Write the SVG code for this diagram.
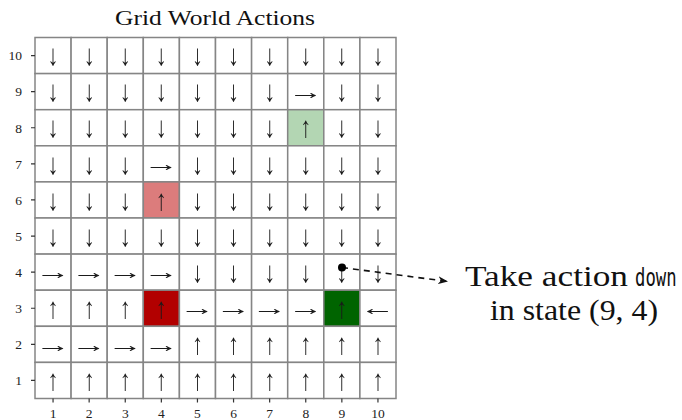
<svg xmlns="http://www.w3.org/2000/svg" width="682" height="420" viewBox="0 0 682 420">
<style>
.bg{fill:#ffffff}
.c rect{fill:#ffffff;stroke:#858585;stroke-width:1.5}
.c text{font-family:"Liberation Serif",serif;font-size:22px;text-anchor:middle;dominant-baseline:central;fill:#1a1a1a}
.c text.v{transform:scale(1,1.35)}
.c text.h{transform:scale(1.6,0.95)}
.tk{stroke:#333;stroke-width:1.2}
.yl{font-family:"Liberation Serif",serif;font-size:13.5px;text-anchor:end;fill:#222}
.xl{font-family:"Liberation Serif",serif;font-size:13.5px;text-anchor:middle;fill:#222}
.ttl{font-family:"Liberation Serif",serif;font-size:21.5px;text-anchor:middle;fill:#111}
.ann{font-family:"Liberation Serif","Times New Roman",serif;font-size:30px;fill:#111}
.mono{font-family:"DejaVu Sans Mono",monospace;font-size:24px;fill:#111}
.lr rect{fill:#dc7c7c}
.lg rect{fill:#b3d6b3}
.dr rect{fill:#b20000}
.dg rect{fill:#006400}
</style>
<defs>
<marker id="stealth" viewBox="0 0 10 8" refX="10" refY="4" markerWidth="10" markerHeight="8" markerUnits="userSpaceOnUse" orient="auto">
<path d="M0,0 L10,4 L0,8 L3,4 z" fill="#111"/>
</marker>
<filter id="gray" x="0" y="0" width="1" height="1"><feOffset dx="0" dy="0"/></filter>
</defs>
<rect class="bg" x="0" y="0" width="682" height="420"/>
<text id="title" class="ttl" x="215" y="25" textLength="200" lengthAdjust="spacingAndGlyphs">Grid World Actions</text>

<g id="grid" filter="url(#gray)">
<rect x="30" y="30" width="380" height="380" fill="#fff"/>
<!-- row 10 -->
<g id="cell-1-10" class="c"><rect x="35" y="37.5" width="36.1" height="36.1"/><g transform="translate(53.05 55.55)"><text class="v">↓</text></g></g>
<g id="cell-2-10" class="c"><rect x="71.1" y="37.5" width="36.1" height="36.1"/><g transform="translate(89.15 55.55)"><text class="v">↓</text></g></g>
<g id="cell-3-10" class="c"><rect x="107.2" y="37.5" width="36.1" height="36.1"/><g transform="translate(125.25 55.55)"><text class="v">↓</text></g></g>
<g id="cell-4-10" class="c"><rect x="143.3" y="37.5" width="36.1" height="36.1"/><g transform="translate(161.35 55.55)"><text class="v">↓</text></g></g>
<g id="cell-5-10" class="c"><rect x="179.4" y="37.5" width="36.1" height="36.1"/><g transform="translate(197.45 55.55)"><text class="v">↓</text></g></g>
<g id="cell-6-10" class="c"><rect x="215.5" y="37.5" width="36.1" height="36.1"/><g transform="translate(233.55 55.55)"><text class="v">↓</text></g></g>
<g id="cell-7-10" class="c"><rect x="251.6" y="37.5" width="36.1" height="36.1"/><g transform="translate(269.65 55.55)"><text class="v">↓</text></g></g>
<g id="cell-8-10" class="c"><rect x="287.7" y="37.5" width="36.1" height="36.1"/><g transform="translate(305.75 55.55)"><text class="v">↓</text></g></g>
<g id="cell-9-10" class="c"><rect x="323.8" y="37.5" width="36.1" height="36.1"/><g transform="translate(341.85 55.55)"><text class="v">↓</text></g></g>
<g id="cell-10-10" class="c"><rect x="359.9" y="37.5" width="36.1" height="36.1"/><g transform="translate(377.95 55.55)"><text class="v">↓</text></g></g>
<!-- row 9 -->
<g id="cell-1-9" class="c"><rect x="35" y="73.6" width="36.1" height="36.1"/><g transform="translate(53.05 91.65)"><text class="v">↓</text></g></g>
<g id="cell-2-9" class="c"><rect x="71.1" y="73.6" width="36.1" height="36.1"/><g transform="translate(89.15 91.65)"><text class="v">↓</text></g></g>
<g id="cell-3-9" class="c"><rect x="107.2" y="73.6" width="36.1" height="36.1"/><g transform="translate(125.25 91.65)"><text class="v">↓</text></g></g>
<g id="cell-4-9" class="c"><rect x="143.3" y="73.6" width="36.1" height="36.1"/><g transform="translate(161.35 91.65)"><text class="v">↓</text></g></g>
<g id="cell-5-9" class="c"><rect x="179.4" y="73.6" width="36.1" height="36.1"/><g transform="translate(197.45 91.65)"><text class="v">↓</text></g></g>
<g id="cell-6-9" class="c"><rect x="215.5" y="73.6" width="36.1" height="36.1"/><g transform="translate(233.55 91.65)"><text class="v">↓</text></g></g>
<g id="cell-7-9" class="c"><rect x="251.6" y="73.6" width="36.1" height="36.1"/><g transform="translate(269.65 91.65)"><text class="v">↓</text></g></g>
<g id="cell-8-9" class="c"><rect x="287.7" y="73.6" width="36.1" height="36.1"/><g transform="translate(305.75 91.65)"><text class="h">→</text></g></g>
<g id="cell-9-9" class="c"><rect x="323.8" y="73.6" width="36.1" height="36.1"/><g transform="translate(341.85 91.65)"><text class="v">↓</text></g></g>
<g id="cell-10-9" class="c"><rect x="359.9" y="73.6" width="36.1" height="36.1"/><g transform="translate(377.95 91.65)"><text class="v">↓</text></g></g>
<!-- row 8 -->
<g id="cell-1-8" class="c"><rect x="35" y="109.7" width="36.1" height="36.1"/><g transform="translate(53.05 127.75)"><text class="v">↓</text></g></g>
<g id="cell-2-8" class="c"><rect x="71.1" y="109.7" width="36.1" height="36.1"/><g transform="translate(89.15 127.75)"><text class="v">↓</text></g></g>
<g id="cell-3-8" class="c"><rect x="107.2" y="109.7" width="36.1" height="36.1"/><g transform="translate(125.25 127.75)"><text class="v">↓</text></g></g>
<g id="cell-4-8" class="c"><rect x="143.3" y="109.7" width="36.1" height="36.1"/><g transform="translate(161.35 127.75)"><text class="v">↓</text></g></g>
<g id="cell-5-8" class="c"><rect x="179.4" y="109.7" width="36.1" height="36.1"/><g transform="translate(197.45 127.75)"><text class="v">↓</text></g></g>
<g id="cell-6-8" class="c"><rect x="215.5" y="109.7" width="36.1" height="36.1"/><g transform="translate(233.55 127.75)"><text class="v">↓</text></g></g>
<g id="cell-7-8" class="c"><rect x="251.6" y="109.7" width="36.1" height="36.1"/><g transform="translate(269.65 127.75)"><text class="v">↓</text></g></g>
<g id="cell-8-8" class="c lg"><rect x="287.7" y="109.7" width="36.1" height="36.1"/><g transform="translate(305.75 127.75)"><text class="v">↑</text></g></g>
<g id="cell-9-8" class="c"><rect x="323.8" y="109.7" width="36.1" height="36.1"/><g transform="translate(341.85 127.75)"><text class="v">↓</text></g></g>
<g id="cell-10-8" class="c"><rect x="359.9" y="109.7" width="36.1" height="36.1"/><g transform="translate(377.95 127.75)"><text class="v">↓</text></g></g>
<!-- row 7 -->
<g id="cell-1-7" class="c"><rect x="35" y="145.8" width="36.1" height="36.1"/><g transform="translate(53.05 163.85)"><text class="v">↓</text></g></g>
<g id="cell-2-7" class="c"><rect x="71.1" y="145.8" width="36.1" height="36.1"/><g transform="translate(89.15 163.85)"><text class="v">↓</text></g></g>
<g id="cell-3-7" class="c"><rect x="107.2" y="145.8" width="36.1" height="36.1"/><g transform="translate(125.25 163.85)"><text class="v">↓</text></g></g>
<g id="cell-4-7" class="c"><rect x="143.3" y="145.8" width="36.1" height="36.1"/><g transform="translate(161.35 163.85)"><text class="h">→</text></g></g>
<g id="cell-5-7" class="c"><rect x="179.4" y="145.8" width="36.1" height="36.1"/><g transform="translate(197.45 163.85)"><text class="v">↓</text></g></g>
<g id="cell-6-7" class="c"><rect x="215.5" y="145.8" width="36.1" height="36.1"/><g transform="translate(233.55 163.85)"><text class="v">↓</text></g></g>
<g id="cell-7-7" class="c"><rect x="251.6" y="145.8" width="36.1" height="36.1"/><g transform="translate(269.65 163.85)"><text class="v">↓</text></g></g>
<g id="cell-8-7" class="c"><rect x="287.7" y="145.8" width="36.1" height="36.1"/><g transform="translate(305.75 163.85)"><text class="v">↓</text></g></g>
<g id="cell-9-7" class="c"><rect x="323.8" y="145.8" width="36.1" height="36.1"/><g transform="translate(341.85 163.85)"><text class="v">↓</text></g></g>
<g id="cell-10-7" class="c"><rect x="359.9" y="145.8" width="36.1" height="36.1"/><g transform="translate(377.95 163.85)"><text class="v">↓</text></g></g>
<!-- row 6 -->
<g id="cell-1-6" class="c"><rect x="35" y="181.9" width="36.1" height="36.1"/><g transform="translate(53.05 199.95)"><text class="v">↓</text></g></g>
<g id="cell-2-6" class="c"><rect x="71.1" y="181.9" width="36.1" height="36.1"/><g transform="translate(89.15 199.95)"><text class="v">↓</text></g></g>
<g id="cell-3-6" class="c"><rect x="107.2" y="181.9" width="36.1" height="36.1"/><g transform="translate(125.25 199.95)"><text class="v">↓</text></g></g>
<g id="cell-4-6" class="c lr"><rect x="143.3" y="181.9" width="36.1" height="36.1"/><g transform="translate(161.35 199.95)"><text class="v">↑</text></g></g>
<g id="cell-5-6" class="c"><rect x="179.4" y="181.9" width="36.1" height="36.1"/><g transform="translate(197.45 199.95)"><text class="v">↓</text></g></g>
<g id="cell-6-6" class="c"><rect x="215.5" y="181.9" width="36.1" height="36.1"/><g transform="translate(233.55 199.95)"><text class="v">↓</text></g></g>
<g id="cell-7-6" class="c"><rect x="251.6" y="181.9" width="36.1" height="36.1"/><g transform="translate(269.65 199.95)"><text class="v">↓</text></g></g>
<g id="cell-8-6" class="c"><rect x="287.7" y="181.9" width="36.1" height="36.1"/><g transform="translate(305.75 199.95)"><text class="v">↓</text></g></g>
<g id="cell-9-6" class="c"><rect x="323.8" y="181.9" width="36.1" height="36.1"/><g transform="translate(341.85 199.95)"><text class="v">↓</text></g></g>
<g id="cell-10-6" class="c"><rect x="359.9" y="181.9" width="36.1" height="36.1"/><g transform="translate(377.95 199.95)"><text class="v">↓</text></g></g>
<!-- row 5 -->
<g id="cell-1-5" class="c"><rect x="35" y="218" width="36.1" height="36.1"/><g transform="translate(53.05 236.05)"><text class="v">↓</text></g></g>
<g id="cell-2-5" class="c"><rect x="71.1" y="218" width="36.1" height="36.1"/><g transform="translate(89.15 236.05)"><text class="v">↓</text></g></g>
<g id="cell-3-5" class="c"><rect x="107.2" y="218" width="36.1" height="36.1"/><g transform="translate(125.25 236.05)"><text class="v">↓</text></g></g>
<g id="cell-4-5" class="c"><rect x="143.3" y="218" width="36.1" height="36.1"/><g transform="translate(161.35 236.05)"><text class="v">↓</text></g></g>
<g id="cell-5-5" class="c"><rect x="179.4" y="218" width="36.1" height="36.1"/><g transform="translate(197.45 236.05)"><text class="v">↓</text></g></g>
<g id="cell-6-5" class="c"><rect x="215.5" y="218" width="36.1" height="36.1"/><g transform="translate(233.55 236.05)"><text class="v">↓</text></g></g>
<g id="cell-7-5" class="c"><rect x="251.6" y="218" width="36.1" height="36.1"/><g transform="translate(269.65 236.05)"><text class="v">↓</text></g></g>
<g id="cell-8-5" class="c"><rect x="287.7" y="218" width="36.1" height="36.1"/><g transform="translate(305.75 236.05)"><text class="v">↓</text></g></g>
<g id="cell-9-5" class="c"><rect x="323.8" y="218" width="36.1" height="36.1"/><g transform="translate(341.85 236.05)"><text class="v">↓</text></g></g>
<g id="cell-10-5" class="c"><rect x="359.9" y="218" width="36.1" height="36.1"/><g transform="translate(377.95 236.05)"><text class="v">↓</text></g></g>
<!-- row 4 -->
<g id="cell-1-4" class="c"><rect x="35" y="254.1" width="36.1" height="36.1"/><g transform="translate(53.05 272.15)"><text class="h">→</text></g></g>
<g id="cell-2-4" class="c"><rect x="71.1" y="254.1" width="36.1" height="36.1"/><g transform="translate(89.15 272.15)"><text class="h">→</text></g></g>
<g id="cell-3-4" class="c"><rect x="107.2" y="254.1" width="36.1" height="36.1"/><g transform="translate(125.25 272.15)"><text class="h">→</text></g></g>
<g id="cell-4-4" class="c"><rect x="143.3" y="254.1" width="36.1" height="36.1"/><g transform="translate(161.35 272.15)"><text class="h">→</text></g></g>
<g id="cell-5-4" class="c"><rect x="179.4" y="254.1" width="36.1" height="36.1"/><g transform="translate(197.45 272.15)"><text class="v">↓</text></g></g>
<g id="cell-6-4" class="c"><rect x="215.5" y="254.1" width="36.1" height="36.1"/><g transform="translate(233.55 272.15)"><text class="v">↓</text></g></g>
<g id="cell-7-4" class="c"><rect x="251.6" y="254.1" width="36.1" height="36.1"/><g transform="translate(269.65 272.15)"><text class="v">↓</text></g></g>
<g id="cell-8-4" class="c"><rect x="287.7" y="254.1" width="36.1" height="36.1"/><g transform="translate(305.75 272.15)"><text class="v">↓</text></g></g>
<g id="cell-9-4" class="c"><rect x="323.8" y="254.1" width="36.1" height="36.1"/><g transform="translate(341.85 272.15)"><text class="v">↓</text></g></g>
<g id="cell-10-4" class="c"><rect x="359.9" y="254.1" width="36.1" height="36.1"/><g transform="translate(377.95 272.15)"><text class="v">↓</text></g></g>
<!-- row 3 -->
<g id="cell-1-3" class="c"><rect x="35" y="290.2" width="36.1" height="36.1"/><g transform="translate(53.05 308.25)"><text class="v">↑</text></g></g>
<g id="cell-2-3" class="c"><rect x="71.1" y="290.2" width="36.1" height="36.1"/><g transform="translate(89.15 308.25)"><text class="v">↑</text></g></g>
<g id="cell-3-3" class="c"><rect x="107.2" y="290.2" width="36.1" height="36.1"/><g transform="translate(125.25 308.25)"><text class="v">↑</text></g></g>
<g id="cell-4-3" class="c dr"><rect x="143.3" y="290.2" width="36.1" height="36.1"/><g transform="translate(161.35 308.25)"><text class="v">↑</text></g></g>
<g id="cell-5-3" class="c"><rect x="179.4" y="290.2" width="36.1" height="36.1"/><g transform="translate(197.45 308.25)"><text class="h">→</text></g></g>
<g id="cell-6-3" class="c"><rect x="215.5" y="290.2" width="36.1" height="36.1"/><g transform="translate(233.55 308.25)"><text class="h">→</text></g></g>
<g id="cell-7-3" class="c"><rect x="251.6" y="290.2" width="36.1" height="36.1"/><g transform="translate(269.65 308.25)"><text class="h">→</text></g></g>
<g id="cell-8-3" class="c"><rect x="287.7" y="290.2" width="36.1" height="36.1"/><g transform="translate(305.75 308.25)"><text class="h">→</text></g></g>
<g id="cell-9-3" class="c dg"><rect x="323.8" y="290.2" width="36.1" height="36.1"/><g transform="translate(341.85 308.25)"><text class="v">↑</text></g></g>
<g id="cell-10-3" class="c"><rect x="359.9" y="290.2" width="36.1" height="36.1"/><g transform="translate(377.95 308.25)"><text class="h">←</text></g></g>
<!-- row 2 -->
<g id="cell-1-2" class="c"><rect x="35" y="326.3" width="36.1" height="36.1"/><g transform="translate(53.05 344.35)"><text class="h">→</text></g></g>
<g id="cell-2-2" class="c"><rect x="71.1" y="326.3" width="36.1" height="36.1"/><g transform="translate(89.15 344.35)"><text class="h">→</text></g></g>
<g id="cell-3-2" class="c"><rect x="107.2" y="326.3" width="36.1" height="36.1"/><g transform="translate(125.25 344.35)"><text class="h">→</text></g></g>
<g id="cell-4-2" class="c"><rect x="143.3" y="326.3" width="36.1" height="36.1"/><g transform="translate(161.35 344.35)"><text class="h">→</text></g></g>
<g id="cell-5-2" class="c"><rect x="179.4" y="326.3" width="36.1" height="36.1"/><g transform="translate(197.45 344.35)"><text class="v">↑</text></g></g>
<g id="cell-6-2" class="c"><rect x="215.5" y="326.3" width="36.1" height="36.1"/><g transform="translate(233.55 344.35)"><text class="v">↑</text></g></g>
<g id="cell-7-2" class="c"><rect x="251.6" y="326.3" width="36.1" height="36.1"/><g transform="translate(269.65 344.35)"><text class="v">↑</text></g></g>
<g id="cell-8-2" class="c"><rect x="287.7" y="326.3" width="36.1" height="36.1"/><g transform="translate(305.75 344.35)"><text class="v">↑</text></g></g>
<g id="cell-9-2" class="c"><rect x="323.8" y="326.3" width="36.1" height="36.1"/><g transform="translate(341.85 344.35)"><text class="v">↑</text></g></g>
<g id="cell-10-2" class="c"><rect x="359.9" y="326.3" width="36.1" height="36.1"/><g transform="translate(377.95 344.35)"><text class="v">↑</text></g></g>
<!-- row 1 -->
<g id="cell-1-1" class="c"><rect x="35" y="362.4" width="36.1" height="36.1"/><g transform="translate(53.05 380.45)"><text class="v">↑</text></g></g>
<g id="cell-2-1" class="c"><rect x="71.1" y="362.4" width="36.1" height="36.1"/><g transform="translate(89.15 380.45)"><text class="v">↑</text></g></g>
<g id="cell-3-1" class="c"><rect x="107.2" y="362.4" width="36.1" height="36.1"/><g transform="translate(125.25 380.45)"><text class="v">↑</text></g></g>
<g id="cell-4-1" class="c"><rect x="143.3" y="362.4" width="36.1" height="36.1"/><g transform="translate(161.35 380.45)"><text class="v">↑</text></g></g>
<g id="cell-5-1" class="c"><rect x="179.4" y="362.4" width="36.1" height="36.1"/><g transform="translate(197.45 380.45)"><text class="v">↑</text></g></g>
<g id="cell-6-1" class="c"><rect x="215.5" y="362.4" width="36.1" height="36.1"/><g transform="translate(233.55 380.45)"><text class="v">↑</text></g></g>
<g id="cell-7-1" class="c"><rect x="251.6" y="362.4" width="36.1" height="36.1"/><g transform="translate(269.65 380.45)"><text class="v">↑</text></g></g>
<g id="cell-8-1" class="c"><rect x="287.7" y="362.4" width="36.1" height="36.1"/><g transform="translate(305.75 380.45)"><text class="v">↑</text></g></g>
<g id="cell-9-1" class="c"><rect x="323.8" y="362.4" width="36.1" height="36.1"/><g transform="translate(341.85 380.45)"><text class="v">↑</text></g></g>
<g id="cell-10-1" class="c"><rect x="359.9" y="362.4" width="36.1" height="36.1"/><g transform="translate(377.95 380.45)"><text class="v">↑</text></g></g>
</g>

<g id="axes">
<path class="tk" d="M31 55.55H35M31 91.65H35M31 127.75H35M31 163.85H35M31 199.95H35M31 236.05H35M31 272.15H35M31 308.25H35M31 344.35H35M31 380.45H35"/>
<path class="tk" d="M53.05 398.5V402.5M89.15 398.5V402.5M125.25 398.5V402.5M161.35 398.5V402.5M197.45 398.5V402.5M233.55 398.5V402.5M269.65 398.5V402.5M305.75 398.5V402.5M341.85 398.5V402.5M377.95 398.5V402.5"/>
<text class="yl" x="22" y="60.3">10</text>
<text class="yl" x="22" y="96.4">9</text>
<text class="yl" x="22" y="132.5">8</text>
<text class="yl" x="22" y="168.6">7</text>
<text class="yl" x="22" y="204.7">6</text>
<text class="yl" x="22" y="240.8">5</text>
<text class="yl" x="22" y="276.9">4</text>
<text class="yl" x="22" y="313">3</text>
<text class="yl" x="22" y="349.1">2</text>
<text class="yl" x="22" y="385.2">1</text>
<text class="xl" x="53.05" y="418">1</text>
<text class="xl" x="89.15" y="418">2</text>
<text class="xl" x="125.25" y="418">3</text>
<text class="xl" x="161.35" y="418">4</text>
<text class="xl" x="197.45" y="418">5</text>
<text class="xl" x="233.55" y="418">6</text>
<text class="xl" x="269.65" y="418">7</text>
<text class="xl" x="305.75" y="418">8</text>
<text class="xl" x="341.85" y="418">9</text>
<text class="xl" x="377.95" y="418">10</text>
</g>

<g id="connectors">
<path d="M342 267.5 L448 281.5" fill="none" stroke="#111" stroke-width="1.6" stroke-dasharray="6,5" marker-end="url(#stealth)"/>
<circle cx="342" cy="267.5" r="4" fill="#000"/>
</g>

<g id="annotation">
<text class="ann" x="465" y="286" textLength="163" lengthAdjust="spacingAndGlyphs">Take action</text>
<text class="mono" transform="translate(635 286) scale(0.72 1)" x="0" y="0">down</text>
<text class="ann" x="490" y="320" textLength="168" lengthAdjust="spacingAndGlyphs">in state (9, 4)</text>
</g>
</svg>
